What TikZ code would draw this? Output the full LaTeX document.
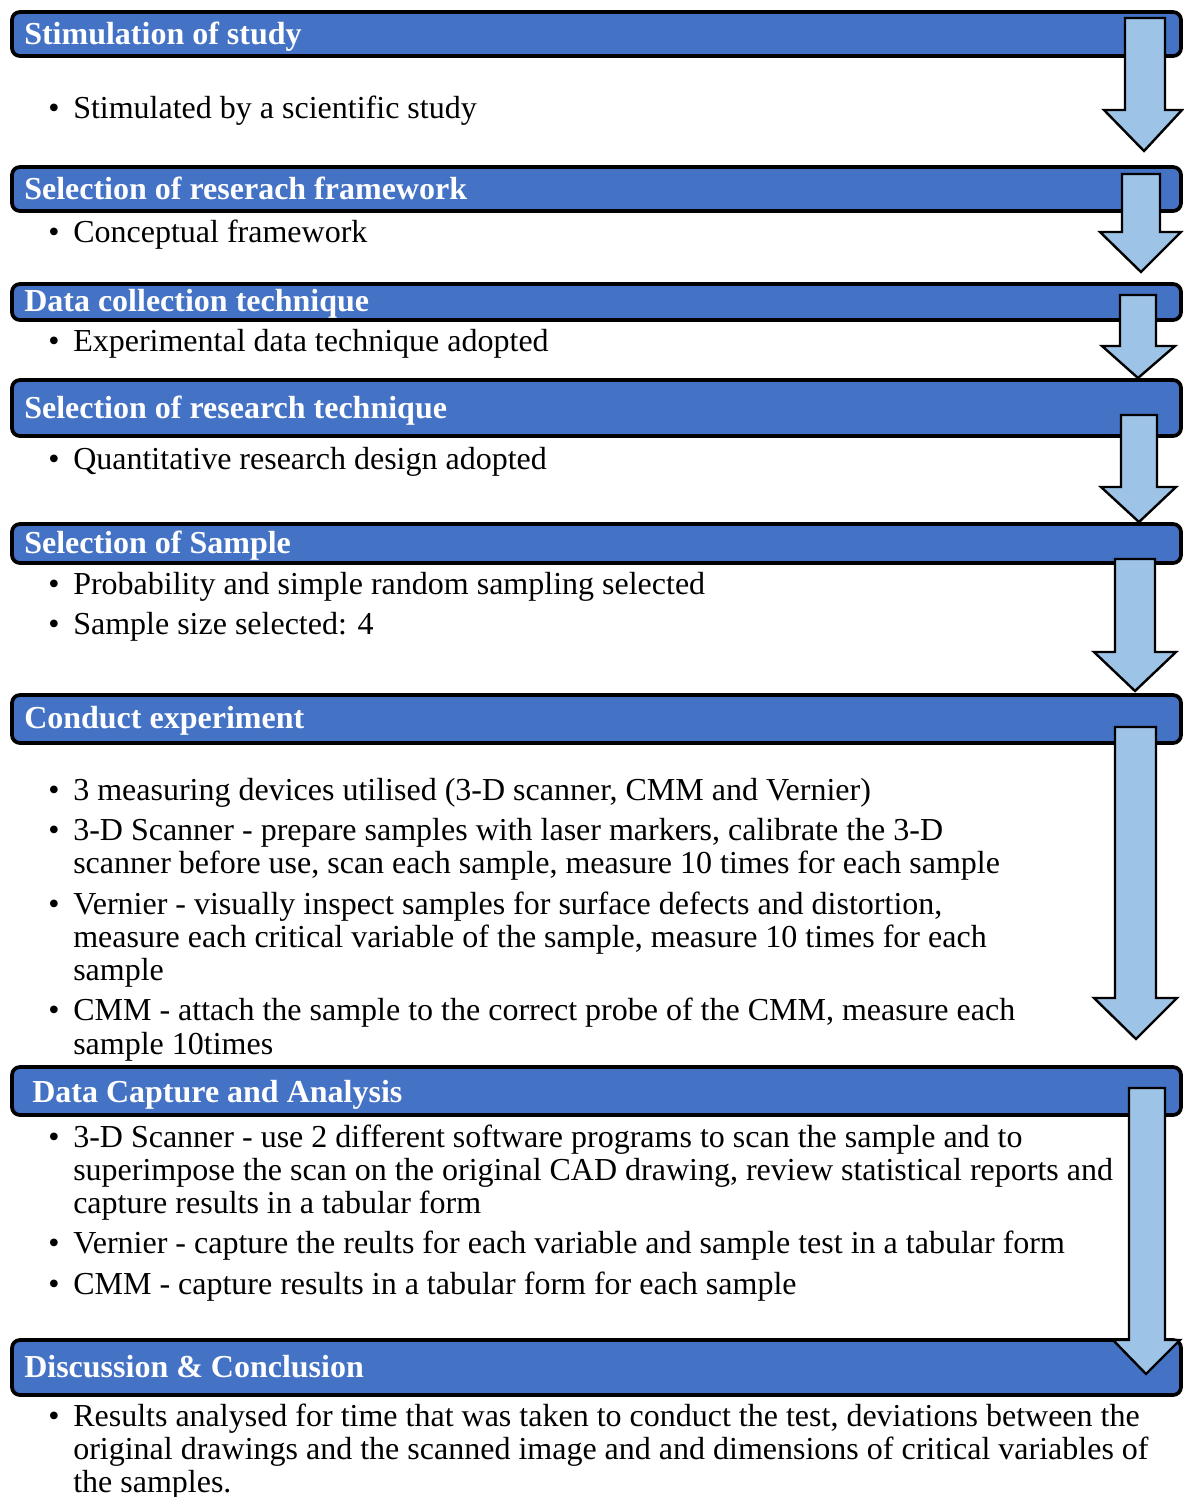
\documentclass[tikz,border=0pt]{standalone}
\usepackage{fontspec}
\setmainfont{Liberation Serif}
\definecolor{hdr}{HTML}{4472C4}
\definecolor{arr}{HTML}{9DC3E6}
\newcommand\bulitem[3]{\node[btext] (#1b) at (48,#2) {•};\node[btext] (#1) at (73,#2) {#3};}
\newcommand\contline[3]{\node[btext] (#1) at (73,#2) {#3};}
\newcommand\dnarrow[9]{\draw[barrow] (#2,#4) -- (#3,#4) -- (#3,#5) -- (#7,#5) -- (#8,#9) -- (#6,#5) -- (#2,#5) -- cycle;}
\begin{document}
\begin{tikzpicture}[x=0.75pt,y=-0.75pt,
 hbar/.style={draw=black, line width=2.8pt, fill=hdr, rounded corners=6pt},
 htext/.style={anchor=base west, inner sep=0pt, text=white, font=\fontsize{24}{25}\selectfont\bfseries},
 btext/.style={anchor=base west, inner sep=0pt, font=\fontsize{24}{25}\selectfont},
 barrow/.style={draw=black, line width=1.8pt, fill=arr, line join=miter}]
\useasboundingbox (0,0) rectangle (1184,1497);

% header bars
\draw[hbar] (12,12) rectangle (1181,56);
\draw[hbar] (12,167) rectangle (1181,211);
\draw[hbar] (12,284) rectangle (1181,320);
\draw[hbar] (12,380) rectangle (1181,436);
\draw[hbar] (12,524) rectangle (1181,563);
\draw[hbar] (12,695) rectangle (1181,743);
\draw[hbar] (12,1067) rectangle (1181,1115);
\draw[hbar] (12,1340) rectangle (1181,1395);

% header texts
\node[htext] (h1) at (24,44) {Stimulation of study};
\node[htext] (h2) at (24,199) {Selection of reserach framework};
\node[htext] (h3) at (24,311) {Data collection technique};
\node[htext] (h4) at (24,418) {Selection of research technique};
\node[htext] (h5) at (24,553) {Selection of Sample};
\node[htext] (h6) at (24,728) {Conduct experiment};
\node[htext] (h7) at (32,1102) {Data Capture and Analysis};
\node[htext] (h8) at (24,1377) {Discussion \& Conclusion};

% bullets
\bulitem{t1}{118}{Stimulated by a scientific study}
\bulitem{t2}{242}{Conceptual framework}
\bulitem{t3}{351}{Experimental data technique adopted}
\bulitem{t4}{469}{Quantitative research design adopted}
\bulitem{t5a}{594}{Probability and simple random sampling selected}
\bulitem{t5b}{634}{Sample size selected: 4}
\bulitem{t6a}{800}{3 measuring devices utilised (3-D scanner, CMM and Vernier)}
\bulitem{t6b}{840}{3-D Scanner - prepare samples with laser markers, calibrate the 3-D}
\contline{t6b2}{873}{scanner before use, scan each sample, measure 10 times for each sample}
\bulitem{t6c}{914}{Vernier - visually inspect samples for surface defects and distortion,}
\contline{t6c2}{947}{measure each critical variable of the sample, measure 10 times for each}
\contline{t6c3}{980}{sample}
\bulitem{t6d}{1020}{CMM - attach the sample to the correct probe of the CMM, measure each}
\contline{t6d2}{1054}{sample 10times}
\bulitem{t7a}{1147}{3-D Scanner - use 2 different software programs to scan the sample and to}
\contline{t7a2}{1180}{superimpose the scan on the original CAD drawing, review statistical reports and}
\contline{t7a3}{1213}{capture results in a tabular form}
\bulitem{t7b}{1253}{Vernier - capture the reults for each variable and sample test in a tabular form}
\bulitem{t7c}{1294}{CMM - capture results in a tabular form for each sample}
\bulitem{t8a}{1426}{Results analysed for time that was taken to conduct the test, deviations between the}
\contline{t8a2}{1459}{original drawings and the scanned image and and dimensions of critical variables of}
\contline{t8a3}{1492}{the samples.}

% arrows: name, xl, xr, ytop, yhead, wing-left, wing-right, tipx, tipy
\dnarrow{a1}{1125}{1165}{18}{110}{1104}{1182}{1144}{151}
\dnarrow{a2}{1122}{1160}{174}{232}{1100}{1181}{1141}{272}
\dnarrow{a3}{1120}{1156}{295}{346}{1102}{1175}{1138}{378}
\dnarrow{a4}{1121}{1157}{415}{487}{1101}{1176}{1139}{522}
\dnarrow{a5}{1115}{1155}{559}{652}{1094}{1176}{1135}{691}
\dnarrow{a6}{1115}{1156}{727}{998}{1094}{1177}{1136}{1039}
\dnarrow{a7}{1129}{1165}{1088}{1340}{1113}{1180}{1146}{1374}
\end{tikzpicture}
\end{document}
